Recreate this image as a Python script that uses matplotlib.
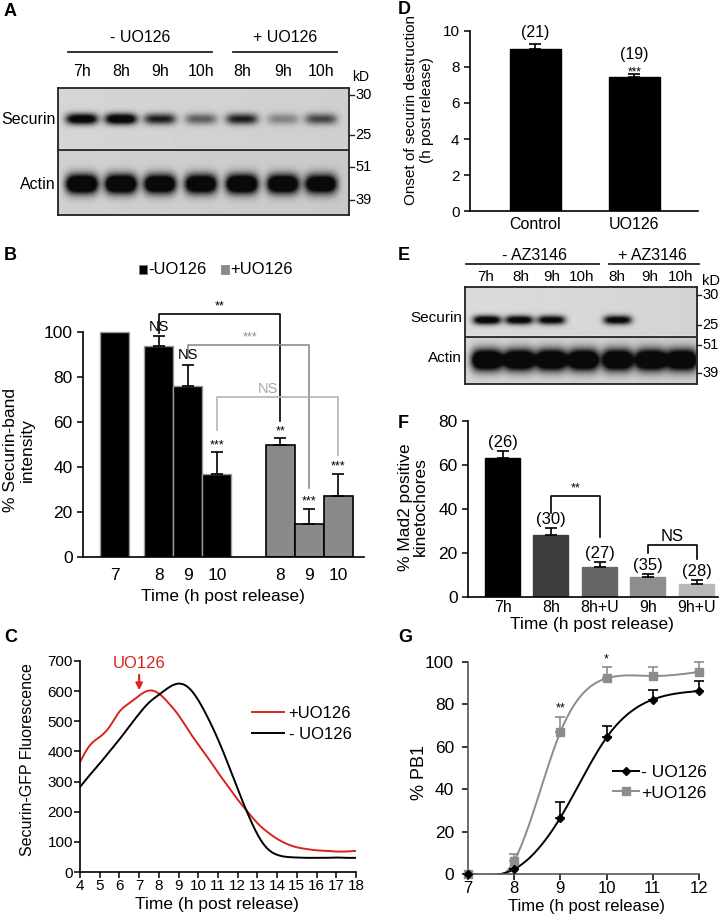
import numpy as np
import matplotlib
matplotlib.use('Agg')
import matplotlib.pyplot as plt
from matplotlib.patches import Rectangle
from matplotlib.lines import Line2D

plt.rcParams['font.family'] = ['Liberation Sans', 'DejaVu Sans']

# ------------------------------------------------------------------ data
# Panel A (western blot, relative band darkness)
a_lanes = ['7h', '8h', '9h', '10h', '8h', '9h', '10h']
a_securin = [1.0, 1.05, 0.72, 0.45, 0.72, 0.30, 0.55]
a_actin = [1.0, 1.0, 0.95, 0.95, 1.0, 0.95, 0.90]
a_markers = ['30', '25', '51', '39']

# Panel B
b_minus_times = ['7', '8', '9', '10']
b_minus_vals = [100, 94, 76, 37]
b_minus_err = [0, 4.2, 9.5, 9.5]
b_plus_times = ['8', '9', '10']
b_plus_vals = [50, 14.5, 27]
b_plus_err = [2.7, 7.0, 10.0]

# Panel C
c_time = [4, 4.5, 5, 5.5, 6, 6.5, 7, 7.5, 8, 8.5, 9, 9.5, 10, 10.5, 11, 11.5,
          12, 12.5, 13, 13.5, 14, 14.5, 15, 15.5, 16, 16.5, 17, 17.5, 18]
c_plus = [365, 420, 448, 482, 532, 560, 585, 602, 592, 560, 520, 470, 423, 378,
          330, 285, 240, 200, 162, 133, 110, 93, 82, 76, 72, 70, 68, 68, 70]
c_minus = [282, 322, 360, 400, 440, 483, 525, 562, 588, 612, 625, 612, 570, 510,
           440, 360, 275, 195, 125, 78, 57, 50, 48, 47, 47, 47, 48, 47, 47]

# Panel D
d_groups = ['Control', 'UO126']
d_vals = [9.0, 7.47]
d_err = [0.28, 0.14]
d_n = ['(21)', '(19)']

# Panel E (western blot)
e_lanes = ['7h', '8h', '9h', '10h', '8h', '9h', '10h']
e_securin = [1.0, 0.95, 0.9, 0.0, 0.92, 0.0, 0.0]
e_actin = [1.0, 1.0, 1.0, 1.0, 1.0, 1.0, 1.0]
e_markers = ['30', '25', '51', '39']

# Panel F
f_groups = ['7h', '8h', '8h+U', '9h', '9h+U']
f_vals = [63, 28, 13.5, 9, 6]
f_err = [3.5, 3.2, 2.2, 1.5, 1.6]
f_n = ['(26)', '(30)', '(27)', '(35)', '(28)']

# Panel G
g_time = [7, 8, 9, 10, 11, 12]
g_minus = [0, 2.3, 26.6, 64.4, 82.3, 86.3]
g_minus_err = [0, 0, 7.4, 5.6, 4.4, 4.7]
g_plus = [0, 6.3, 67.0, 92.3, 93.4, 95.3]
g_plus_err = [0, 3.1, 6.9, 5.4, 4.3, 4.7]

# ------------------------------------------------------------------ helpers
W, H = 728, 914
fig = plt.figure(figsize=(W / 100, H / 100), dpi=100)
fig.patch.set_facecolor('white')


def add_ax(x0, y0, x1, y1):
    return fig.add_axes([x0 / W, 1 - y1 / H, (x1 - x0) / W, (y1 - y0) / H])


def ftext(x, y, s, **kw):
    kw.setdefault('ha', 'center')
    kw.setdefault('va', 'center')
    return fig.text(x / W, 1 - y / H, s, **kw)


def fline(xs, ys, **kw):
    fig.add_artist(Line2D([x / W for x in xs], [1 - y / H for y in ys],
                          transform=fig.transFigure, **kw))


def frect(x0, y0, w, h, **kw):
    fig.add_artist(Rectangle((x0 / W, 1 - (y0 + h) / H), w / W, h / H,
                             transform=fig.transFigure, **kw))


def natural_spline(x, y, n=300):
    x = np.asarray(x, float)
    y = np.asarray(y, float)
    m = len(x)
    h = np.diff(x)
    A = np.zeros((m, m))
    r = np.zeros(m)
    A[0, 0] = A[-1, -1] = 1
    for i in range(1, m - 1):
        A[i, i - 1] = h[i - 1]
        A[i, i] = 2 * (h[i - 1] + h[i])
        A[i, i + 1] = h[i]
        r[i] = 3 * ((y[i + 1] - y[i]) / h[i] - (y[i] - y[i - 1]) / h[i - 1])
    c = np.linalg.solve(A, r)
    b = (y[1:] - y[:-1]) / h - h * (2 * c[:-1] + c[1:]) / 3
    d = (c[1:] - c[:-1]) / (3 * h)
    xs = np.linspace(x[0], x[-1], n)
    idx = np.clip(np.searchsorted(x, xs, side='right') - 1, 0, m - 2)
    dx = xs - x[idx]
    return xs, y[idx] + b[idx] * dx + c[idx] * dx ** 2 + d[idx] * dx ** 3


def style_axes(ax, lw=1.2):
    for s in ['top', 'right']:
        ax.spines[s].set_visible(False)
    for s in ['left', 'bottom']:
        ax.spines[s].set_linewidth(lw)
        ax.spines[s].set_color('black')
    ax.tick_params(direction='out', length=4, width=1.1, color='black')


def draw_blot(box, sep_y, lanes_x, sec, sec_w, sec_y, sec_h, act, act_w,
              act_y, act_h, bg_top, bg_bot):
    x0, y0, x1, y1 = box
    ax = add_ax(x0, y0, x1, y1)
    xs = np.arange(x0, x1, 0.5) + 0.25
    ys = np.arange(y0, y1, 0.5) + 0.25
    X, Y = np.meshgrid(xs, ys)
    base = np.where(Y < sep_y, bg_top, bg_bot) - 0.03 * (X - x0) / (x1 - x0)
    dark = np.zeros_like(X)
    for xc, a in zip(lanes_x, sec):
        dark += 1.3 * a * np.exp(-((X - xc) / sec_w) ** 4) * np.exp(-((Y - sec_y) / sec_h) ** 2)
    for xc, a in zip(lanes_x, act):
        dark += 1.8 * a * np.exp(-((X - xc) / act_w) ** 4) * np.exp(-((Y - act_y) / act_h) ** 2)
    img = base * (1 - 0.95 * np.clip(dark, 0, 1))
    ax.imshow(img, cmap='gray', vmin=0, vmax=1, extent=(x0, x1, y1, y0),
              interpolation='bilinear', aspect='auto')
    ax.axhline(sep_y - 1.5, color='white', lw=1.0)
    ax.axhline(sep_y, color='#222222', lw=1.3)
    ax.set_xlim(x0, x1)
    ax.set_ylim(y1, y0)
    ax.set_xticks([])
    ax.set_yticks([])
    for s in ax.spines.values():
        s.set_linewidth(1.3)
        s.set_color('#222222')
    return ax


LABEL_KW = dict(fontsize=13, fontweight='bold', ha='left', va='center')

# ------------------------------------------------------------------ Panel A
ftext(4, 11, 'A', **LABEL_KW)
ftext(140, 38, '- UO126', fontsize=11.5)
fline([68, 212], [52, 52], color='#222222', lw=1.3)
ftext(285, 38, '+ UO126', fontsize=11.5)
fline([233, 337], [52, 52], color='#222222', lw=1.3)
a_lane_x = [82, 121, 160, 201, 242, 283, 321]
for xc, lab in zip(a_lane_x, a_lanes):
    ftext(xc, 72, lab, fontsize=11.5)
ftext(352, 77, 'kD', fontsize=10, ha='left')
draw_blot((58, 88, 349, 215), 150, a_lane_x, a_securin, 16, 119, 5.5,
          a_actin, 16, 184, 9.5, 0.84, 0.82)
ftext(56, 119, 'Securin', fontsize=11.5, ha='right')
ftext(56, 184, 'Actin', fontsize=11.5, ha='right')
for lab, yy in zip(a_markers, [95, 135, 167, 200]):
    fline([350, 354], [yy, yy], color='#222222', lw=1.0)
    ftext(355, yy, lab, fontsize=10.5, ha='left')

# ------------------------------------------------------------------ Panel B
ftext(4, 255, 'B', **LABEL_KW)
frect(139, 265, 8, 9, facecolor='black', edgecolor='#777777', lw=0.6)
ftext(148, 270, '-UO126', fontsize=12, ha='left')
frect(221, 265, 8, 9, facecolor='#8a8a8a', edgecolor='#8a8a8a', lw=0.6)
ftext(230, 270, '+UO126', fontsize=12, ha='left')

ax_b = add_ax(83, 310, 364, 557)
style_axes(ax_b)
ax_b.set_ylim(0, (557 - 310) / 2.25)
ax_b.set_xlim(0, 281 / 29)
pos_minus = [1.1, 2.62, 3.62, 4.62]
pos_plus = [6.81, 7.81, 8.81]
ax_b.bar(pos_minus, b_minus_vals, width=1.0, color='black', edgecolor='#9a9a9a', lw=1.0)
ax_b.bar(pos_plus, b_plus_vals, width=1.0, color='#8a8a8a', edgecolor='black', lw=1.2)
ax_b.errorbar(pos_minus[1:], b_minus_vals[1:], yerr=[np.zeros(3), b_minus_err[1:]],
              fmt='none', ecolor='black', elinewidth=1.2, capsize=4, capthick=1.2)
ax_b.errorbar(pos_plus, b_plus_vals, yerr=[np.zeros(3), b_plus_err],
              fmt='none', ecolor='black', elinewidth=1.2, capsize=4, capthick=1.2)
ax_b.set_yticks([0, 20, 40, 60, 80, 100])
ax_b.set_yticklabels(['0', '20', '40', '60', '80', '100'], fontsize=12.5)
ax_b.spines['left'].set_bounds(0, 100)
ax_b.set_xticks(pos_minus + pos_plus)
ax_b.set_xticklabels(b_minus_times + b_plus_times, fontsize=12.5)
ax_b.tick_params(axis='x', length=0, pad=8)
# significance annotations
top_m = [v + e for v, e in zip(b_minus_vals, b_minus_err)]
top_p = [v + e for v, e in zip(b_plus_vals, b_plus_err)]
ax_b.text(pos_minus[1], top_m[1] + 1, 'NS', ha='center', va='bottom', fontsize=10.5)
ax_b.text(pos_minus[2], top_m[2] + 1, 'NS', ha='center', va='bottom', fontsize=10.5)
ax_b.text(pos_minus[3], top_m[3] + 0.5, '***', ha='center', va='bottom', fontsize=9)
ax_b.text(pos_plus[0], top_p[0] + 0.5, '**', ha='center', va='bottom', fontsize=9)
ax_b.text(pos_plus[1], top_p[1] + 0.5, '***', ha='center', va='bottom', fontsize=9)
ax_b.text(pos_plus[2], top_p[2] + 0.5, '***', ha='center', va='bottom', fontsize=9)
ax_b.plot([pos_minus[1], pos_minus[1], pos_plus[0], pos_plus[0]], [99.6, 108, 108, 60.5],
          color='black', lw=1.2, clip_on=False)
ax_b.text((pos_minus[1] + pos_plus[0]) / 2, 108.5, '**', ha='center', va='bottom',
          fontsize=9, clip_on=False)
ax_b.plot([pos_minus[2], pos_minus[2], pos_plus[1], pos_plus[1]], [89, 94.2, 94.2, 30.5],
          color='#8c8c8c', lw=1.2)
ax_b.text(5.76, 94.7, '***', ha='center', va='bottom', fontsize=9, color='#8c8c8c')
ax_b.plot([pos_minus[3], pos_minus[3], pos_plus[2], pos_plus[2]], [56.5, 71.1, 71.1, 45.3],
          color='#b4b4b4', lw=1.2)
ax_b.text(6.38, 71.6, 'NS', ha='center', va='bottom', fontsize=10.5, color='#a8a8a8')
ftext(223, 596, 'Time (h post release)', fontsize=12.5)
ftext(19, 450, '% Securin-band\nintensity', fontsize=12.5, rotation=90, linespacing=1.1)

# ------------------------------------------------------------------ Panel C
ftext(4, 637, 'C', **LABEL_KW)
ax_c = add_ax(80, 661, 356, 872)
style_axes(ax_c)
xs, ys = natural_spline(c_time, c_plus, 600)
ax_c.plot(xs, ys, color='#d9231d', lw=1.4, label='+UO126')
xs, ys = natural_spline(c_time, c_minus, 600)
ax_c.plot(xs, ys, color='black', lw=1.4, label='- UO126')
ax_c.set_xlim(4, 18)
ax_c.set_ylim(0, 700)
ax_c.set_xticks(range(4, 19))
ax_c.set_xticklabels([str(t) for t in range(4, 19)], fontsize=11)
ax_c.set_yticks(range(0, 701, 100))
ax_c.set_yticklabels([str(t) for t in range(0, 701, 100)], fontsize=11)
ax_c.tick_params(axis='x', pad=1)
ax_c.tick_params(axis='y', pad=1)
ax_c.legend(loc='upper left', bbox_to_anchor=(252 / W, 1 - 706 / H),
            bbox_transform=fig.transFigure, frameon=False, fontsize=12,
            handlelength=1.9, handletextpad=0.3, labelspacing=0.35,
            borderpad=0, borderaxespad=0)
ax_c.annotate('UO126', xy=(7.0, 603), xytext=(7.0, 693), color='#d9231d',
              fontsize=12, ha='center', va='center', annotation_clip=False,
              arrowprops=dict(arrowstyle='-|>', color='#d9231d', lw=1.5,
                              shrinkA=1, shrinkB=0, mutation_scale=10))
ftext(217, 904, 'Time (h post release)', fontsize=12.5)
ftext(28, 760, 'Securin-GFP Fluorescence', fontsize=11.5, rotation=90)

# ------------------------------------------------------------------ Panel D
ftext(398, 9, 'D', **LABEL_KW)
ax_d = add_ax(470, 31, 698, 211)
style_axes(ax_d)
ax_d.set_ylim(0, 10)
ax_d.set_xlim(0, 228 / 51)
d_pos = [1.28, 3.22]
ax_d.bar(d_pos, d_vals, width=1.0, color='black', edgecolor='black')
ax_d.errorbar(d_pos, d_vals, yerr=[np.zeros(2), d_err], fmt='none', ecolor='black',
              elinewidth=1.2, capsize=4, capthick=1.2)
ax_d.set_yticks(range(0, 11, 2))
ax_d.set_yticklabels([str(t) for t in range(0, 11, 2)], fontsize=11)
ax_d.set_xticks(d_pos)
ax_d.set_xticklabels(d_groups, fontsize=11.5)
ax_d.tick_params(axis='x', length=0, pad=4)
ax_d.text(d_pos[0], 9.92, d_n[0], ha='center', va='center', fontsize=11.5, clip_on=False)
ax_d.text(d_pos[1], 8.67, d_n[1], ha='center', va='center', fontsize=11.5)
ax_d.text(d_pos[1], 7.72, '***', ha='center', va='center', fontsize=8.5)
ftext(419, 110, 'Onset of securin destruction\n(h post release)', fontsize=11,
      rotation=90, linespacing=1.1)

# ------------------------------------------------------------------ Panel E
ftext(398, 255, 'E', **LABEL_KW)
ftext(535, 255, '- AZ3146', fontsize=11.5)
fline([466, 599], [264, 264], color='#222222', lw=1.3)
ftext(652, 255, '+ AZ3146', fontsize=11.5)
fline([609, 699], [264, 264], color='#222222', lw=1.3)
e_lane_x = [487, 519, 551, 583, 617, 650, 681]
for xc, lab in zip([486, 521, 552, 582, 617, 650, 681], e_lanes):
    ftext(xc, 277, lab, fontsize=11)
ftext(702, 281, 'kD', fontsize=10.5, ha='left')
draw_blot((465, 287, 697, 384), 337, e_lane_x, e_securin, 14, 320, 4.5,
          e_actin, 15.5, 360, 10.5, 0.86, 0.84)
ftext(462, 318, 'Securin', fontsize=11, ha='right')
ftext(462, 358, 'Actin', fontsize=11, ha='right')
for lab, yy in zip(e_markers, [295, 325, 345, 373]):
    fline([697, 701], [yy, yy], color='#222222', lw=1.0)
    ftext(702, yy, lab, fontsize=10.5, ha='left')

# ------------------------------------------------------------------ Panel F
ftext(398, 423, 'F', **LABEL_KW)
ax_f = add_ax(468, 421, 718, 597)
style_axes(ax_f)
ax_f.set_ylim(0, 80)
ax_f.set_xlim(0, 250 / 35)
f_pos = [0.986, 2.37, 3.76, 5.14, 6.53]
f_colors = ['#000000', '#3c3c3c', '#666666', '#8e8e8e', '#b8b8b8']
ax_f.bar(f_pos, f_vals, width=1.0, color=f_colors, edgecolor=f_colors)
ax_f.errorbar(f_pos, f_vals, yerr=[np.zeros(5), f_err], fmt='none', ecolor='black',
              elinewidth=1.2, capsize=4, capthick=1.2)
ax_f.set_yticks(range(0, 81, 20))
ax_f.set_yticklabels([str(t) for t in range(0, 81, 20)], fontsize=12.5)
ax_f.set_xticks(f_pos)
ax_f.set_xticklabels(f_groups, fontsize=11.5)
ax_f.tick_params(axis='x', length=0, pad=2)
for p, v, e, n in zip(f_pos, f_vals, f_err, f_n):
    ax_f.text(p, v + e + 0.5, n, ha='center', va='bottom', fontsize=12)
ax_f.plot([f_pos[1], f_pos[1], f_pos[2], f_pos[2]], [38.2, 45.9, 45.9, 27.3],
          color='black', lw=1.2)
ax_f.text((f_pos[1] + f_pos[2]) / 2, 46.5, '**', ha='center', va='bottom', fontsize=9)
ax_f.plot([f_pos[3], f_pos[3], f_pos[4], f_pos[4]], [20, 23.6, 23.6, 17.3],
          color='black', lw=1.2)
ax_f.text((f_pos[3] + f_pos[4]) / 2, 24.3, 'NS', ha='center', va='bottom', fontsize=12)
ftext(592, 624, 'Time (h post release)', fontsize=12.5)
ftext(413, 507, '% Mad2 positive\nkinetochores', fontsize=12.5, rotation=90,
      linespacing=1.05)

# ------------------------------------------------------------------ Panel G
ftext(398, 638, 'G', **LABEL_KW)
ax_g = add_ax(468, 662, 699, 874)
style_axes(ax_g)
ax_g.spines['left'].set_color('#555555')
ax_g.spines['bottom'].set_color('#555555')
ax_g.set_xlim(7, 12)
ax_g.set_ylim(0, 100)
gray = '#8c8c8c'
xs, ys = natural_spline(g_time, g_plus)
ax_g.plot(xs, ys, color=gray, lw=1.4)
xs, ys = natural_spline(g_time, g_minus)
ax_g.plot(xs, ys, color='black', lw=1.4)
ax_g.errorbar(g_time, g_plus, yerr=[np.zeros(6), g_plus_err], fmt='none', ecolor=gray,
              elinewidth=1.2, capsize=3.5, capthick=1.2, clip_on=False)
ax_g.errorbar(g_time, g_minus, yerr=[np.zeros(6), g_minus_err], fmt='none', ecolor='black',
              elinewidth=1.2, capsize=3.5, capthick=1.2, clip_on=False)
ax_g.plot(g_time, g_plus, ls='none', marker='s', ms=6, color=gray, clip_on=False,
          zorder=5)
ax_g.plot(g_time, g_minus, ls='none', marker='D', ms=4.5, color='black', clip_on=False,
          zorder=6)
h1 = Line2D([], [], color='black', marker='D', ms=4.5, lw=1.4)
h2 = Line2D([], [], color=gray, marker='s', ms=5.5, lw=1.4)
ax_g.legend([h1, h2], ['- UO126', '+UO126'], loc='upper left',
            bbox_to_anchor=(613 / W, 1 - 765 / H), bbox_transform=fig.transFigure,
            frameon=False, fontsize=12.5, handlelength=1.5, handletextpad=0.1,
            labelspacing=0.3, borderpad=0, borderaxespad=0)
ax_g.text(9, 75.5, '**', ha='center', va='bottom', fontsize=9)
ax_g.text(10, 98.5, '*', ha='center', va='bottom', fontsize=9)
ax_g.set_xticks(range(7, 13))
ax_g.set_xticklabels([str(t) for t in range(7, 13)], fontsize=12)
ax_g.set_yticks(range(0, 101, 20))
ax_g.set_yticklabels([str(t) for t in range(0, 101, 20)], fontsize=12.5)
ax_g.tick_params(axis='x', pad=1)
ax_g.tick_params(axis='y', pad=6)
ftext(587, 906, 'Time (h post release)', fontsize=12)
ftext(420, 773, '% PB1', fontsize=13, rotation=90)

fig.savefig('out.png', dpi=100)
